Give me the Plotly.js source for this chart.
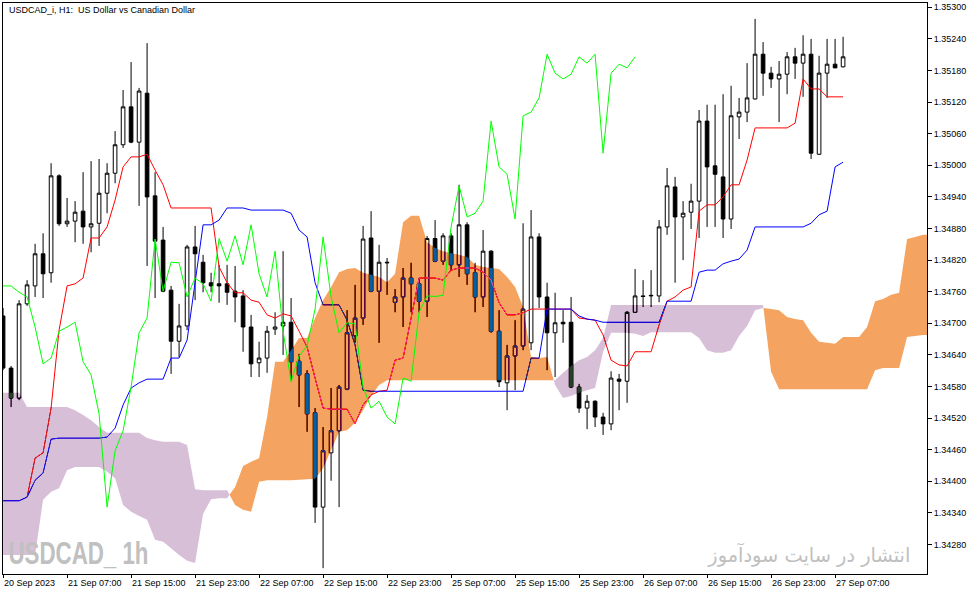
<!DOCTYPE html>
<html><head><meta charset="utf-8">
<script src="https://cdn.plot.ly/plotly-3.0.1.min.js"></script>
<style>html,body{margin:0;padding:0;background:#fff}#chart{width:979px;height:595px}</style>
</head><body><div id="chart"></div>
<script>
// ---- data (bar index = H1 bar, bar 0 = 20 Sep 2023 23:00) ----
const tickBars = [0, 8, 16, 24, 32, 40, 48, 56, 64, 72, 80, 88, 96, 104];
const tickLabels = ['20 Sep 2023', '21 Sep 07:00', '21 Sep 15:00', '21 Sep 23:00', '22 Sep 07:00',
  '22 Sep 15:00', '22 Sep 23:00', '25 Sep 07:00', '25 Sep 15:00', '25 Sep 23:00', '26 Sep 07:00',
  '26 Sep 15:00', '26 Sep 23:00', '27 Sep 07:00'];

const openP = [1.34714,1.34615,1.34558,1.34737,1.34771,1.34832,1.34796,1.34980,1.34889,1.34894,
1.34913,1.34883,1.34890,1.34947,1.34985,1.35039,1.35111,1.35044,1.35137,1.34942,
1.34858,1.34763,1.34666,1.34695,1.34845,1.34816,1.34777,1.34775,1.34775,1.34761,
1.34752,1.34693,1.34625,1.34634,1.34689,1.34695,1.34702,1.34628,1.34604,1.34530,
1.34351,1.34454,1.34496,1.34575,1.34676,1.34710,1.34862,1.34761,1.34816,1.34740,
1.34750,1.34786,1.34775,1.34742,1.34861,1.34818,1.34866,1.34811,1.34887,1.34796,
1.34750,1.34837,1.34685,1.34587,1.34638,1.34657,1.34663,1.34864,1.34750,1.34682,
1.34702,1.34702,1.34579,1.34539,1.34552,1.34522,1.34509,1.34594,1.34590,1.34721,
1.34752,1.34752,1.34752,1.34883,1.34959,1.34902,1.34911,1.34932,1.35084,1.34999,
1.34978,1.34898,1.35092,1.35101,1.35126,1.35211,1.35175,1.35164,1.35173,1.35206,
1.35194,1.35211,1.35021,1.35175,1.35192,1.35187];
const highP = [1.34729,1.34619,1.34744,1.34782,1.34851,1.34871,1.35004,1.34983,1.34938,1.34932,
1.34987,1.35008,1.35012,1.35004,1.35065,1.35143,1.35196,1.35147,1.35232,1.34987,
1.34883,1.34771,1.34737,1.34849,1.34885,1.34830,1.34796,1.34811,1.34811,1.34809,
1.34763,1.34716,1.34665,1.34695,1.34721,1.34837,1.34748,1.34642,1.34611,1.34539,
1.34503,1.34577,1.34583,1.34725,1.34773,1.34885,1.34913,1.34849,1.34824,1.34765,
1.34805,1.34815,1.34786,1.34866,1.34896,1.34871,1.34871,1.34963,1.34892,1.34815,
1.34877,1.34839,1.34725,1.34659,1.34706,1.34890,1.34915,1.34871,1.34777,1.34758,
1.34725,1.34750,1.34585,1.34564,1.34554,1.34530,1.34609,1.34604,1.34723,1.34803,
1.34782,1.34801,1.34896,1.34995,1.34978,1.34932,1.34965,1.35105,1.35115,1.35115,
1.35135,1.35151,1.35128,1.35194,1.35278,1.35234,1.35187,1.35198,1.35215,1.35223,
1.35247,1.35240,1.35208,1.35240,1.35240,1.35244];
const lowP = [1.34611,1.34541,1.34554,1.34733,1.34750,1.34748,1.34777,1.34885,1.34883,1.34854,
1.34851,1.34835,1.34847,1.34909,1.34966,1.35033,1.35042,1.34923,1.34809,1.34748,
1.34759,1.34604,1.34636,1.34687,1.34744,1.34759,1.34759,1.34739,1.34735,1.34702,
1.34646,1.34598,1.34598,1.34606,1.34678,1.34640,1.34592,1.34541,1.34494,1.34321,
1.34235,1.34401,1.34351,1.34573,1.34663,1.34697,1.34759,1.34663,1.34754,1.34721,
1.34693,1.34721,1.34721,1.34712,1.34816,1.34811,1.34801,1.34788,1.34773,1.34721,
1.34731,1.34682,1.34579,1.34535,1.34573,1.34649,1.34649,1.34729,1.34611,1.34598,
1.34663,1.34577,1.34530,1.34499,1.34503,1.34488,1.34497,1.34535,1.34549,1.34720,
1.34731,1.34731,1.34740,1.34868,1.34777,1.34820,1.34879,1.34862,1.34883,1.34883,
1.34862,1.34879,1.35050,1.35082,1.35125,1.35132,1.35147,1.35082,1.35135,1.35164,
1.35130,1.35012,1.35020,1.35128,1.35185,1.35186];
const closeP = [1.34615,1.34558,1.34737,1.34773,1.34832,1.34794,1.34980,1.34889,1.34894,1.34911,
1.34883,1.34889,1.34947,1.34985,1.35039,1.35111,1.35044,1.35141,1.34940,1.34856,
1.34761,1.34666,1.34695,1.34845,1.34832,1.34777,1.34771,1.34771,1.34759,1.34750,
1.34693,1.34623,1.34634,1.34685,1.34693,1.34702,1.34627,1.34602,1.34528,1.34351,
1.34458,1.34496,1.34579,1.34682,1.34710,1.34860,1.34761,1.34816,1.34815,1.34750,
1.34786,1.34775,1.34742,1.34861,1.34818,1.34866,1.34811,1.34887,1.34794,1.34750,
1.34837,1.34685,1.34589,1.34638,1.34657,1.34727,1.34864,1.34750,1.34682,1.34701,
1.34699,1.34579,1.34539,1.34552,1.34522,1.34509,1.34596,1.34590,1.34721,1.34752,
1.34751,1.34753,1.34883,1.34961,1.34902,1.34909,1.34932,1.35084,1.34997,1.34983,
1.34898,1.35094,1.35101,1.35128,1.35211,1.35175,1.35164,1.35173,1.35206,1.35194,
1.35211,1.35023,1.35175,1.35192,1.35185,1.35206];

const tenkanSen = [null,null,null,1.34370,1.34444,1.34454,1.34539,1.34687,1.34771,1.34775,
1.34786,1.34862,1.34862,1.34883,1.34934,1.34997,1.35016,1.35016,1.35021,1.34991,
1.34963,1.34919,1.34919,1.34919,1.34919,1.34919,1.34919,1.34807,1.34777,1.34758,
1.34758,1.34744,1.34740,1.34716,1.34710,1.34718,1.34714,1.34685,1.34655,1.34596,
1.34539,1.34537,1.34537,1.34537,1.34509,1.34545,1.34564,1.34571,1.34573,1.34630,
1.34634,1.34712,1.34786,1.34786,1.34786,1.34782,1.34801,1.34805,1.34805,1.34805,
1.34797,1.34782,1.34739,1.34716,1.34716,1.34720,1.34727,1.34727,1.34727,1.34727,
1.34727,1.34727,1.34710,1.34708,1.34706,1.34678,1.34630,1.34621,1.34619,1.34646,
1.34646,1.34646,1.34697,1.34742,1.34750,1.34763,1.34769,1.34913,1.34925,1.34925,
1.34940,1.34963,1.34963,1.35010,1.35071,1.35071,1.35071,1.35071,1.35071,1.35080,
1.35164,1.35145,1.35145,1.35130,1.35130,1.35130];
const kijunSen = [1.34363,1.34363,1.34363,1.34370,1.34402,1.34416,1.34480,1.34482,1.34482,1.34482,
1.34482,1.34482,1.34482,1.34484,1.34501,1.34545,1.34577,1.34587,1.34594,1.34594,
1.34594,1.34634,1.34634,1.34668,1.34773,1.34887,1.34887,1.34896,1.34919,1.34919,
1.34919,1.34915,1.34915,1.34915,1.34915,1.34915,1.34909,1.34877,1.34864,1.34777,
1.34735,1.34735,1.34735,1.34706,1.34659,1.34573,1.34571,1.34571,1.34571,1.34571,
1.34571,1.34571,1.34571,1.34571,1.34571,1.34571,1.34571,1.34571,1.34571,1.34571,
1.34571,1.34571,1.34571,1.34571,1.34571,1.34571,1.34634,1.34634,1.34727,1.34727,
1.34727,1.34727,1.34714,1.34708,1.34706,1.34702,1.34702,1.34702,1.34702,1.34702,
1.34702,1.34702,1.34702,1.34742,1.34742,1.34742,1.34742,1.34797,1.34801,1.34801,
1.34813,1.34818,1.34822,1.34839,1.34883,1.34883,1.34883,1.34883,1.34883,1.34883,
1.34883,1.34890,1.34906,1.34913,1.34997,1.35006];
const senkouA = [1.34260,1.34260,1.34260,1.34260,1.34260,1.34365,1.34380,1.34387,1.34421,1.34427,
1.34427,1.34427,1.34427,1.34418,1.34406,1.34355,1.34342,1.34334,1.34327,1.34289,
1.34285,1.34273,1.34260,1.34249,1.34245,1.34338,1.34366,1.34368,1.34368,1.34389,
1.34429,1.34437,1.34444,1.34522,1.34627,1.34627,1.34649,1.34672,1.34672,1.34710,
1.34744,1.34769,1.34797,1.34803,1.34805,1.34796,1.34792,1.34788,1.34778,1.34794,
1.34892,1.34904,1.34904,1.34854,1.34843,1.34837,1.34833,1.34830,1.34826,1.34811,
1.34807,1.34805,1.34803,1.34788,1.34769,1.34731,1.34636,1.34634,1.34636,1.34583,
1.34558,1.34562,1.34568,1.34573,1.34577,1.34646,1.34682,1.34682,1.34682,1.34680,
1.34676,1.34683,1.34683,1.34683,1.34683,1.34683,1.34683,1.34672,1.34649,1.34644,
1.34644,1.34649,1.34676,1.34695,1.34725,1.34729,1.34727,1.34725,1.34712,1.34708,
1.34706,1.34682,1.34665,1.34663,1.34661,1.34674,1.34674,1.34674,1.34693,1.34742,
1.34746,1.34754,1.34758,1.34860,1.34864,1.34868,1.34868];
const senkouB = [1.34568,1.34568,1.34568,1.34541,1.34541,1.34541,1.34541,1.34541,1.34541,1.34535,
1.34526,1.34516,1.34503,1.34492,1.34492,1.34492,1.34492,1.34492,1.34482,1.34478,
1.34475,1.34475,1.34475,1.34469,1.34385,1.34383,1.34383,1.34383,1.34383,1.34355,
1.34346,1.34342,1.34399,1.34402,1.34402,1.34402,1.34402,1.34403,1.34404,1.34405,
1.34425,1.34459,1.34494,1.34497,1.34511,1.34535,1.34562,1.34583,1.34592,1.34592,
1.34592,1.34592,1.34592,1.34592,1.34592,1.34592,1.34592,1.34592,1.34592,1.34592,
1.34592,1.34592,1.34592,1.34592,1.34592,1.34592,1.34592,1.34592,1.34592,1.34592,
1.34606,1.34619,1.34630,1.34636,1.34649,1.34672,1.34735,1.34735,1.34735,1.34735,
1.34735,1.34735,1.34735,1.34735,1.34735,1.34735,1.34735,1.34735,1.34735,1.34735,
1.34735,1.34735,1.34735,1.34735,1.34735,1.34735,1.34608,1.34575,1.34575,1.34575,
1.34575,1.34575,1.34575,1.34575,1.34575,1.34575,1.34575,1.34575,1.34575,1.34611,
1.34615,1.34615,1.34615,1.34674,1.34676,1.34678,1.34678];

// ---- derived positions ----
const bars = openP.map((_, i) => i);
const chikouX = closeP.map((_, i) => i - 26);
const Y_MIN = 1.34224, Y_MAX = 1.353082;

// cloud polygons: insert crossing points between span A and span B
function cloudPoly(upperIsA) {
  const pts = [];
  for (let i = 0; i < senkouA.length; i++) {
    pts.push({x: i, a: senkouA[i], b: senkouB[i]});
    if (i + 1 < senkouA.length) {
      const d0 = senkouA[i] - senkouB[i], d1 = senkouA[i + 1] - senkouB[i + 1];
      if (d0 * d1 < 0) {
        const t = d0 / (d0 - d1);
        const v = senkouA[i] + t * (senkouA[i + 1] - senkouA[i]);
        pts.push({x: i + t, a: v, b: v});
      }
    }
  }
  const xs = [], ys = [];
  pts.forEach(p => { xs.push(p.x); ys.push(upperIsA ? p.a : p.b); });
  for (let k = pts.length - 1; k >= 0; k--) { xs.push(pts[k].x); ys.push(Math.min(pts[k].a, pts[k].b)); }
  return {xs, ys};
}
const orangePoly = cloudPoly(true);
const purplePoly = cloudPoly(false);

const data = [
  {type: 'bar', x: [57.75], y: [Y_MAX - Y_MIN], base: [Y_MIN], width: [200],
   marker: {color: '#ffffff', line: {width: 0}}, hoverinfo: 'skip', showlegend: false},
  {type: 'candlestick', x: bars, open: openP, high: highP, low: lowP, close: closeP,
   increasing: {line: {color: '#000000', width: 1}, fillcolor: '#ffffff'},
   decreasing: {line: {color: '#000000', width: 1}, fillcolor: '#000000'},
   whiskerwidth: 0, hoverinfo: 'skip', showlegend: false},
  {type: 'scatter', mode: 'lines', x: bars, y: tenkanSen, line: {color: '#ff0000', width: 1},
   hoverinfo: 'skip', showlegend: false},
  {type: 'scatter', mode: 'lines', x: bars, y: kijunSen, line: {color: '#0000ff', width: 1},
   hoverinfo: 'skip', showlegend: false},
  {type: 'scatter', mode: 'none', x: orangePoly.xs, y: orangePoly.ys, fill: 'toself',
   fillcolor: 'rgb(11,91,159)', hoverinfo: 'skip', showlegend: false},
  {type: 'scatter', mode: 'none', x: purplePoly.xs, y: purplePoly.ys, fill: 'toself',
   fillcolor: 'rgb(39,64,39)', hoverinfo: 'skip', showlegend: false},
  {type: 'scatter', mode: 'lines', x: chikouX, y: closeP, line: {color: '#00ff00', width: 1},
   hoverinfo: 'skip', showlegend: false}
];

const axisFont = {family: 'Liberation Sans, Arial, sans-serif', size: 9, color: '#000000'};
const layout = {
  width: 979, height: 595,
  margin: {l: 3, r: 52, t: 3, b: 21, pad: 0},
  paper_bgcolor: '#ffffff', plot_bgcolor: '#ffffff',
  showlegend: false, boxgap: 0.35, bargap: 0,
  xaxis: {range: [-0.01, 115.49], tickmode: 'array', tickvals: tickBars, ticktext: tickLabels,
    ticks: 'outside', ticklen: 3, tickcolor: '#000', tickwidth: 1,
    showgrid: false, zeroline: false, showline: true, linecolor: '#000', linewidth: 1, mirror: true,
    tickfont: axisFont, ticklabelposition: 'outside right', rangeslider: {visible: false}, fixedrange: true},
  yaxis: {side: 'right', range: [Y_MIN, Y_MAX], tickmode: 'linear', tick0: 1.3428, dtick: 0.0006,
    tickformat: '.5f', ticks: 'outside', ticklen: 4, tickcolor: '#000', tickwidth: 1,
    showgrid: false, zeroline: false, showline: true, linecolor: '#000', linewidth: 1, mirror: true,
    tickfont: axisFont, fixedrange: true},
  annotations: [
    {text: 'USDCAD_i, H1:\u00a0 US Dollar vs Canadian Dollar', xref: 'paper', yref: 'paper',
     x: 0.004, y: 0.9877, xanchor: 'left', yanchor: 'middle', showarrow: false,
     font: {family: 'Liberation Sans, Arial, sans-serif', size: 9, color: '#000'}},
    {text: 'USDCAD_ 1h', xref: 'paper', yref: 'paper',
     x: 0.0812, y: 0.036, xanchor: 'center', yanchor: 'middle', showarrow: false,
     font: {family: "'Liberation Sans', Arial, sans-serif", size: 32, weight: 700, color: '#c0c0c0'}},
    {text: 'انتشار در سایت سودآموز', xref: 'paper', yref: 'paper',
     x: 0.8723, y: 0.035, xanchor: 'center', yanchor: 'middle', showarrow: false,
     font: {family: "'DejaVu Sans', sans-serif", size: 20, color: '#c0c0c0'}}
  ]
};

Plotly.newPlot('chart', data, layout, {staticPlot: true, displayModeBar: false}).then(gd => {
  gd.querySelectorAll('path.js-fill').forEach(p => {
    const f = (p.style.fill || p.getAttribute('fill') || '').replace(/\s/g, '');
    if (f.indexOf('11,91,159') >= 0 || f.indexOf('39,64,39') >= 0) {
      p.style.mixBlendMode = 'difference';
    }
  });
  gd.querySelectorAll('text.annotation-text').forEach(t => {
    const s = t.textContent;
    if (s.indexOf('USDCAD_ 1h') === 0 || s.indexOf('USDCAD_\u00a01h') === 0) {
      t.setAttribute('textLength', '140');
      t.setAttribute('lengthAdjust', 'spacingAndGlyphs');
    } else if (s.indexOf('انتشار') >= 0) {
      t.setAttribute('textLength', '202');
      t.setAttribute('lengthAdjust', 'spacingAndGlyphs');
    }
  });
});
</script>
</body></html>
